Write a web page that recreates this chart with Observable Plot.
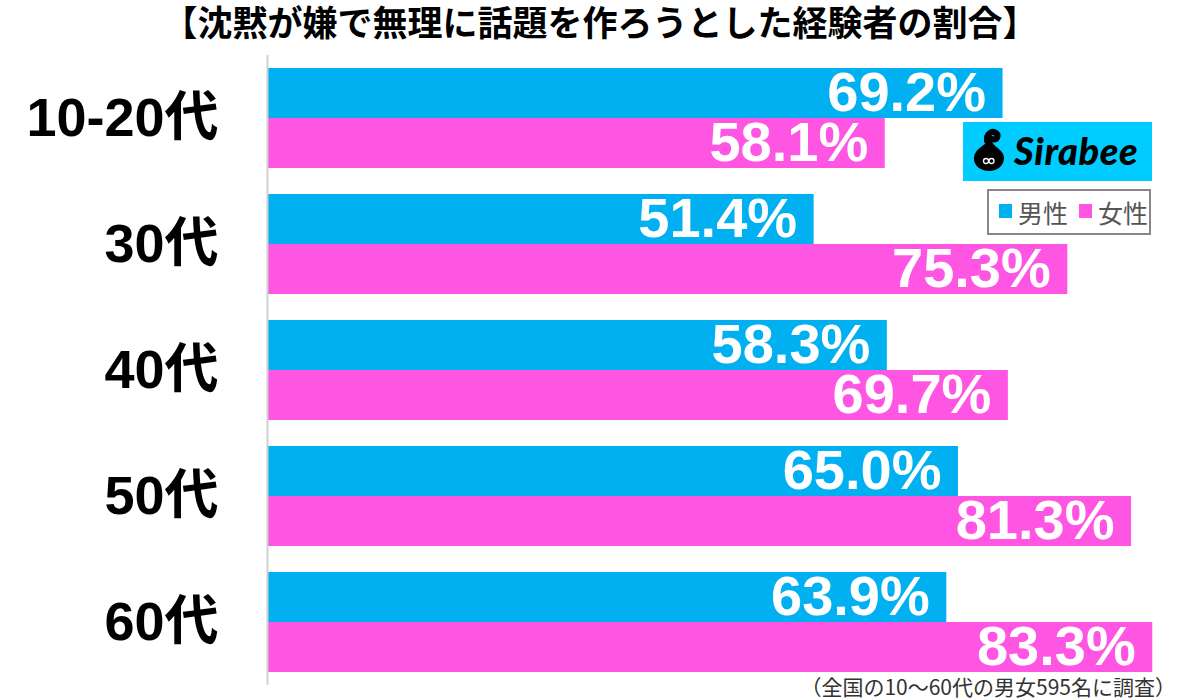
<!DOCTYPE html>
<html>
<head>
<meta charset="utf-8">
<script src="https://cdn.jsdelivr.net/npm/d3@7"></script>
<script src="https://cdn.jsdelivr.net/npm/@observablehq/plot@0.6"></script>
<style>
  html, body { margin: 0; padding: 0; background: #fff; }
  #wrap { position: relative; width: 1200px; height: 699px; overflow: hidden; font-family: "Noto Sans CJK JP", "Noto Sans", sans-serif; }
  #chart { position: absolute; left: 0; top: 0; }
  #title { position: absolute; left: 0; top: 1px; width: 1200px; text-align: center; font-size: 35px; font-weight: bold; color: #000; line-height: 40px; white-space: nowrap; }
  #logo { position: absolute; left: 963px; top: 122px; width: 189px; height: 59px; background: #00CCFF; }
  #logo .txt { position: absolute; left: 51px; top: 6px; font-family: "Lato", "Roboto", sans-serif; font-weight: 900; font-style: italic; font-size: 38px; color: #000; letter-spacing: 0.6px; line-height: 44px; }
  #legend { position: absolute; left: 987px; top: 189px; width: 160px; height: 42px; border: 2px solid #888; box-sizing: content-box; }
  #legend .sw { position: absolute; top: 13px; width: 13px; height: 14px; }
  #legend .lab { position: absolute; top: 3px; font-size: 25px; color: #555; line-height: 36px; white-space: nowrap; }
  #note { position: absolute; right: 24px; top: 675px; font-size: 21px; color: #333; line-height: 23px; white-space: nowrap; }
</style>
</head>
<body>
<div id="wrap">
  <div id="chart"></div>
  <div id="title">【沈黙が嫌で無理に話題を作ろうとした経験者の割合】</div>
  <div id="logo">
    <svg width="50" height="59" style="position:absolute;left:0;top:0">
      <path d="M24 19 C23 12 29 8 33 11 C37 14 33 19 29 17" fill="none" stroke="#000" stroke-width="6" stroke-linecap="round"/>
      <path d="M28 16 C25 23 11 25 11 37 C11 44 18 49 26 49 C35 49 41 43 41 36 C41 28 32 26 29 20 Z" fill="#000"/>
      <circle cx="23" cy="39" r="2.5" fill="none" stroke="#fff" stroke-width="1.3"/>
      <circle cx="28.5" cy="39" r="2.5" fill="none" stroke="#fff" stroke-width="1.3"/>
    </svg>
    <div class="txt">Sirabee</div>
  </div>
  <div id="legend">
    <div class="sw" style="left:10px;background:#00B0F0"></div>
    <div class="lab" style="left:29px">男性</div>
    <div class="sw" style="left:90px;background:#FF55E3"></div>
    <div class="lab" style="left:109px">女性</div>
  </div>
  <div id="note">（全国の10〜60代の男女595名に調査）</div>
</div>
<script>
const ages = ["10-20代", "30代", "40代", "50代", "60代"];
const maleValues = [69.2, 51.4, 58.3, 65.0, 63.9];
const femaleValues = [58.1, 75.3, 69.7, 81.3, 83.3];
const sexes = ["男性", "女性"];
const colors = ["#00B0F0", "#FF55E3"];

const maleData = ages.map((a, i) => ({age: a, v: maleValues[i]}));
const femaleData = ages.map((a, i) => ({age: a, v: femaleValues[i]}));
const fmt = d => d.v.toFixed(1) + "%";

const labelFont = '"Liberation Sans", Arial, "Noto Sans CJK JP", sans-serif';

const plot = Plot.plot({
  width: 1200,
  height: 699,
  marginLeft: 268,
  marginRight: 0,
  marginTop: 55,
  marginBottom: 14,
  style: {background: "transparent", color: "#000", fontFamily: labelFont},
  x: {domain: [0, 87.8], axis: null},
  y: {domain: ages, paddingInner: 26 / 126, paddingOuter: 13 / 126, label: null, axis: null},
  marks: [
    Plot.barX(maleData, {x: "v", y: "age", fill: colors[0], insetBottom: 50}),
    Plot.barX(femaleData, {x: "v", y: "age", fill: colors[1], insetTop: 50}),
    Plot.text(maleData, {x: "v", y: "age", text: fmt, dy: -25, dx: -17, textAnchor: "end", fill: "#fff", fontSize: 56, fontWeight: "bold", fontFamily: labelFont}),
    Plot.text(femaleData, {x: "v", y: "age", text: fmt, dy: 25, dx: -17, textAnchor: "end", fill: "#fff", fontSize: 56, fontWeight: "bold", fontFamily: labelFont}),
    Plot.ruleX([0], {stroke: "#d0d0d0", strokeWidth: 2, dx: -1}),
    Plot.axisY({tickSize: 0, tickPadding: 50, fontSize: 54, fontWeight: "bold", fill: "#000", label: null, fontFamily: labelFont})
  ]
});
document.getElementById("chart").appendChild(plot);
</script>
</body>
</html>
